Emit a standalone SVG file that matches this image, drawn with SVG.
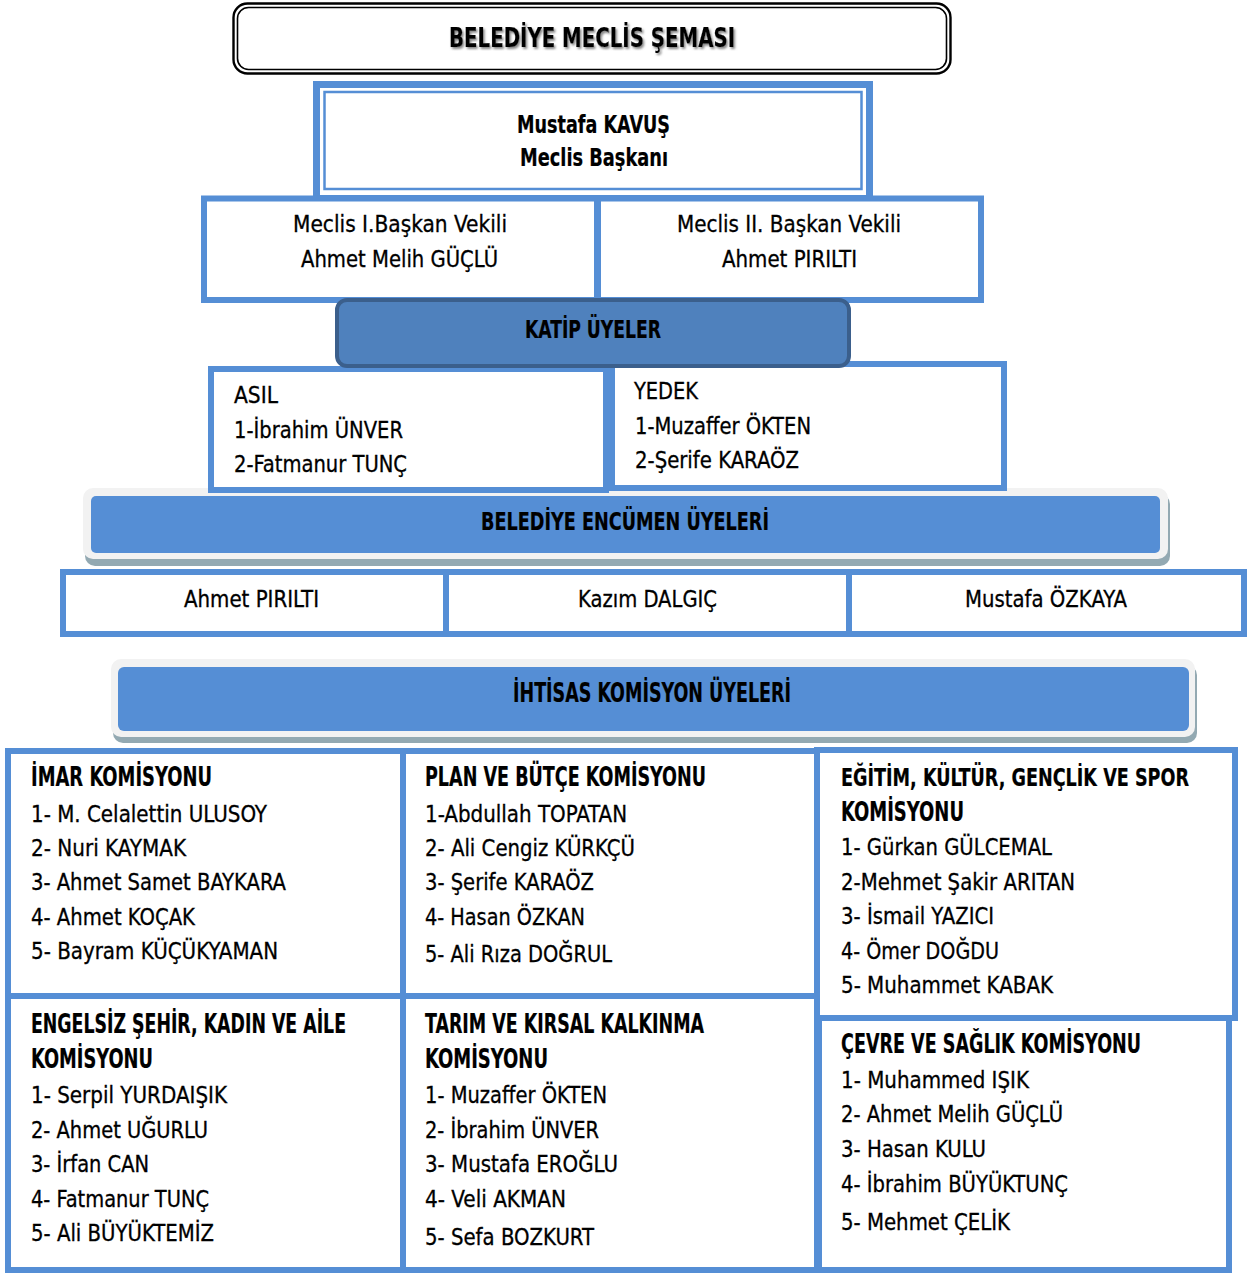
<svg xmlns="http://www.w3.org/2000/svg" width="1250" height="1273" viewBox="0 0 1250 1273">
<defs>
<style>
.t{font-family:"Liberation Sans Narrow","DejaVu Sans Condensed","Roboto Condensed","Liberation Sans",sans-serif;font-stretch:condensed;fill:#000;font-size:23px;stroke:#000;stroke-width:0.3}
.b{font-weight:bold;font-size:26px;stroke-width:0.2}
.c{text-anchor:middle}
.box{fill:#fff;stroke:#558ED5;stroke-width:6}
.band-sh{fill:#93A9B2}
.band-gr{fill:#F2F2F2}
.band-bl{fill:#558ED5}
</style>
<filter id="sh" x="-10%" y="-30%" width="120%" height="160%">
<feDropShadow dx="1.5" dy="2" stdDeviation="1.2" flood-color="#666" flood-opacity="0.8"/>
</filter>
</defs>
<rect width="1250" height="1273" fill="#fff"/>

<g id="title">
<rect x="233.5" y="3.5" width="717" height="70" rx="14" fill="#fff" stroke="#000" stroke-width="2.4"/>
<rect x="237.5" y="7.5" width="709" height="62" rx="11" fill="none" stroke="#000" stroke-width="1.6"/>
<text class="t b c" x="592" y="47" style="font-size:26px" textLength="286" lengthAdjust="spacingAndGlyphs" filter="url(#sh)">BELEDİYE MECLİS ŞEMASI</text>
</g>

<g id="baskan">
<rect x="316.5" y="84.5" width="553" height="114" fill="#fff" stroke="#558ED5" stroke-width="7"/>
<rect x="324.5" y="92" width="537" height="97" fill="none" stroke="#558ED5" stroke-width="2.5"/>
<text class="t b c" x="593.5" y="133" style="font-size:24px" textLength="153" lengthAdjust="spacingAndGlyphs">Mustafa KAVUŞ</text>
<text class="t b c" x="594" y="166" style="font-size:24px" textLength="148" lengthAdjust="spacingAndGlyphs">Meclis Başkanı</text>
</g>

<g id="vekil1">
<rect class="box" x="204" y="198.5" width="393" height="101.5" stroke-width="7"/>
<text class="t c" x="400" y="232" textLength="214" lengthAdjust="spacingAndGlyphs">Meclis I.Başkan Vekili</text>
<text class="t c" x="399.5" y="267" textLength="197" lengthAdjust="spacingAndGlyphs">Ahmet Melih GÜÇLÜ</text>
</g>

<g id="vekil2">
<rect class="box" x="598" y="198.5" width="383" height="101.5" stroke-width="7"/>
<text class="t c" x="789" y="232" textLength="224" lengthAdjust="spacingAndGlyphs">Meclis II. Başkan Vekili</text>
<text class="t c" x="789.5" y="267" textLength="135" lengthAdjust="spacingAndGlyphs">Ahmet PIRILTI</text>
</g>

<g id="encumen-band">
<rect class="band-sh" x="85" y="494" width="1085" height="72" rx="10"/>
<rect class="band-gr" x="83" y="488" width="1085" height="71" rx="10"/>
<rect class="band-bl" x="91" y="496" width="1069" height="57" rx="5"/>
<text class="t b c" x="625" y="530" style="font-size:25px" textLength="288" lengthAdjust="spacingAndGlyphs">BELEDİYE ENCÜMEN ÜYELERİ</text>
</g>

<g id="asil">
<rect class="box" x="211" y="369" width="395" height="121"/>
<text class="t" x="234" y="403" textLength="44" lengthAdjust="spacingAndGlyphs">ASIL</text>
<text class="t" x="234" y="438" textLength="169" lengthAdjust="spacingAndGlyphs">1-İbrahim ÜNVER</text>
<text class="t" x="234" y="472" textLength="173" lengthAdjust="spacingAndGlyphs">2-Fatmanur TUNÇ</text>
</g>

<g id="yedek">
<rect class="box" x="612" y="364" width="392" height="124"/>
<text class="t" x="634" y="399" textLength="64" lengthAdjust="spacingAndGlyphs">YEDEK</text>
<text class="t" x="635" y="434" textLength="176" lengthAdjust="spacingAndGlyphs">1-Muzaffer ÖKTEN</text>
<text class="t" x="635" y="468" textLength="164" lengthAdjust="spacingAndGlyphs">2-Şerife KARAÖZ</text>
</g>

<g id="katip">
<rect x="337" y="300" width="512" height="66" rx="10" fill="#4F81BD" stroke="#3B5F8C" stroke-width="4"/>
<text class="t b c" x="593" y="338" style="font-size:24px" textLength="136" lengthAdjust="spacingAndGlyphs">KATİP ÜYELER</text>
</g>

<g id="encumen-1">
<rect class="box" x="63" y="572" width="383" height="62"/>
<text class="t c" x="251.5" y="607" textLength="135" lengthAdjust="spacingAndGlyphs">Ahmet PIRILTI</text>
</g>
<g id="encumen-2">
<rect class="box" x="446" y="572" width="403" height="62"/>
<text class="t c" x="647.5" y="607" textLength="139" lengthAdjust="spacingAndGlyphs">Kazım DALGIÇ</text>
</g>
<g id="encumen-3">
<rect class="box" x="849" y="572" width="395" height="62"/>
<text class="t c" x="1046" y="607" textLength="162" lengthAdjust="spacingAndGlyphs">Mustafa ÖZKAYA</text>
</g>

<g id="ihtisas-band">
<rect class="band-sh" x="113" y="665" width="1084" height="78" rx="10"/>
<rect class="band-gr" x="111" y="659" width="1084" height="78" rx="10"/>
<rect class="band-bl" x="118" y="667" width="1071" height="64" rx="6"/>
<text class="t b c" x="652" y="702" style="font-size:27px" textLength="278" lengthAdjust="spacingAndGlyphs">İHTİSAS KOMİSYON ÜYELERİ</text>
</g>

<g id="imar">
<rect class="box" x="8" y="751" width="395" height="245"/>
<text class="t b" x="31" y="786" textLength="181" lengthAdjust="spacingAndGlyphs">İMAR KOMİSYONU</text>
<text class="t" x="31" y="822" textLength="236" lengthAdjust="spacingAndGlyphs">1- M. Celalettin ULUSOY</text>
<text class="t" x="31" y="856" textLength="155" lengthAdjust="spacingAndGlyphs">2- Nuri KAYMAK</text>
<text class="t" x="31" y="890" textLength="255" lengthAdjust="spacingAndGlyphs">3- Ahmet Samet BAYKARA</text>
<text class="t" x="31" y="925" textLength="164" lengthAdjust="spacingAndGlyphs">4- Ahmet KOÇAK</text>
<text class="t" x="31" y="959" textLength="247" lengthAdjust="spacingAndGlyphs">5- Bayram KÜÇÜKYAMAN</text>
</g>

<g id="plan">
<rect class="box" x="403" y="751" width="414" height="245"/>
<text class="t b" x="425" y="786" textLength="281" lengthAdjust="spacingAndGlyphs">PLAN VE BÜTÇE KOMİSYONU</text>
<text class="t" x="425" y="822" textLength="202" lengthAdjust="spacingAndGlyphs">1-Abdullah TOPATAN</text>
<text class="t" x="425" y="856" textLength="210" lengthAdjust="spacingAndGlyphs">2- Ali Cengiz KÜRKÇÜ</text>
<text class="t" x="425" y="890" textLength="169" lengthAdjust="spacingAndGlyphs">3- Şerife KARAÖZ</text>
<text class="t" x="425" y="925" textLength="160" lengthAdjust="spacingAndGlyphs">4- Hasan ÖZKAN</text>
<text class="t" x="425" y="962" textLength="187" lengthAdjust="spacingAndGlyphs">5- Ali Rıza DOĞRUL</text>
</g>

<g id="egitim">
<rect class="box" x="817" y="750" width="418" height="268"/>
<text class="t b" x="841" y="786" style="font-size:24px" textLength="348" lengthAdjust="spacingAndGlyphs">EĞİTİM, KÜLTÜR, GENÇLİK VE SPOR</text>
<text class="t b" x="841" y="821" textLength="123" lengthAdjust="spacingAndGlyphs">KOMİSYONU</text>
<text class="t" x="841" y="855" textLength="211" lengthAdjust="spacingAndGlyphs">1- Gürkan GÜLCEMAL</text>
<text class="t" x="841" y="890" textLength="234" lengthAdjust="spacingAndGlyphs">2-Mehmet Şakir ARITAN</text>
<text class="t" x="841" y="924" textLength="153" lengthAdjust="spacingAndGlyphs">3- İsmail YAZICI</text>
<text class="t" x="841" y="959" textLength="158" lengthAdjust="spacingAndGlyphs">4- Ömer DOĞDU</text>
<text class="t" x="841" y="993" textLength="212" lengthAdjust="spacingAndGlyphs">5- Muhammet KABAK</text>
</g>

<g id="engelsiz">
<rect class="box" x="8" y="996" width="395" height="274"/>
<text class="t b" x="31" y="1033" textLength="315" lengthAdjust="spacingAndGlyphs">ENGELSİZ ŞEHİR, KADIN VE AİLE</text>
<text class="t b" x="31" y="1068" textLength="122" lengthAdjust="spacingAndGlyphs">KOMİSYONU</text>
<text class="t" x="31" y="1103" textLength="196" lengthAdjust="spacingAndGlyphs">1- Serpil YURDAIŞIK</text>
<text class="t" x="31" y="1138" textLength="177" lengthAdjust="spacingAndGlyphs">2- Ahmet UĞURLU</text>
<text class="t" x="31" y="1172" textLength="118" lengthAdjust="spacingAndGlyphs">3- İrfan CAN</text>
<text class="t" x="31" y="1207" textLength="178" lengthAdjust="spacingAndGlyphs">4- Fatmanur TUNÇ</text>
<text class="t" x="31" y="1241" textLength="183" lengthAdjust="spacingAndGlyphs">5- Ali BÜYÜKTEMİZ</text>
</g>

<g id="tarim">
<rect class="box" x="403" y="996" width="414" height="274"/>
<text class="t b" x="425" y="1033" textLength="279" lengthAdjust="spacingAndGlyphs">TARIM VE KIRSAL KALKINMA</text>
<text class="t b" x="425" y="1068" textLength="123" lengthAdjust="spacingAndGlyphs">KOMİSYONU</text>
<text class="t" x="425" y="1103" textLength="182" lengthAdjust="spacingAndGlyphs">1- Muzaffer ÖKTEN</text>
<text class="t" x="425" y="1138" textLength="174" lengthAdjust="spacingAndGlyphs">2- İbrahim ÜNVER</text>
<text class="t" x="425" y="1172" textLength="193" lengthAdjust="spacingAndGlyphs">3- Mustafa EROĞLU</text>
<text class="t" x="425" y="1207" textLength="141" lengthAdjust="spacingAndGlyphs">4- Veli AKMAN</text>
<text class="t" x="425" y="1245" textLength="169" lengthAdjust="spacingAndGlyphs">5- Sefa BOZKURT</text>
</g>

<g id="cevre">
<rect class="box" x="819" y="1018" width="410" height="252"/>
<text class="t b" x="841" y="1053" textLength="300" lengthAdjust="spacingAndGlyphs">ÇEVRE VE SAĞLIK KOMİSYONU</text>
<text class="t" x="841" y="1088" textLength="188" lengthAdjust="spacingAndGlyphs">1- Muhammed IŞIK</text>
<text class="t" x="841" y="1122" textLength="222" lengthAdjust="spacingAndGlyphs">2- Ahmet Melih GÜÇLÜ</text>
<text class="t" x="841" y="1157" textLength="145" lengthAdjust="spacingAndGlyphs">3- Hasan KULU</text>
<text class="t" x="841" y="1192" textLength="227" lengthAdjust="spacingAndGlyphs">4- İbrahim BÜYÜKTUNÇ</text>
<text class="t" x="841" y="1230" textLength="169" lengthAdjust="spacingAndGlyphs">5- Mehmet ÇELİK</text>
</g>

<g id="connectors"></g>
</svg>
